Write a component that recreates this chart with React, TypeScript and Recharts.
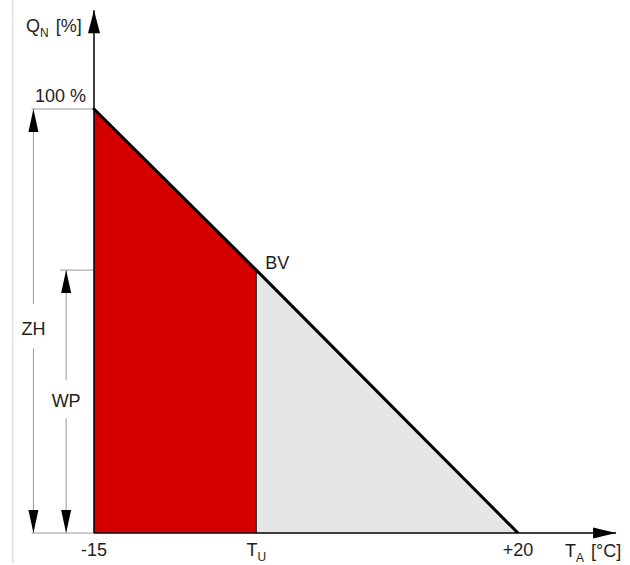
import React from 'react';
import { ComposedChart, Area, Line, XAxis, YAxis, ReferenceLine, ReferenceDot } from 'recharts';

// ---- data ----
const temps = [-15, -1.6, 20]; // outdoor temperature: -15, T_U, +20
const heatLoad = [100, 62, 0]; // Q_N [%]
const tickLabels = ['-15', 'T|U', '+20'];
const yAxisTitle = 'Q|N [%]';
const xAxisTitle = 'T|A [°C]';
const topLabel = '100 %';
const pointLabel = 'BV';
const dimLabels = ['ZH', 'WP'];

const rows = temps.map((t, i) => ({
  x: t,
  q: heatLoad[i],
  red: i <= 1 ? heatLoad[i] : null,
  gray: i >= 1 ? heatLoad[i] : null,
}));

// ---- layout ----
const W = 630;
const H = 565;
const X_DOMAIN: [number, number] = [-22.76, 29.25];
const Y_DOMAIN: [number, number] = [0, 125.7];
const FONT = '"Liberation Sans", Arial, Helvetica, sans-serif';
const TXT = '#1e1e1e';
const ZH_X = -20.0;
const WP_X = -17.3;
const Y_ARROW = 123.3;
const X_ARROW = 28.1;
const FRAME_X = -21.7;

const T0 = temps[0];
const TU = temps[1];
const QTOP = heatLoad[0];
const QBV = heatLoad[1];

const sub = (s: string, size: number, big: number, gap: number) => {
  const [main, rest] = s.split('|');
  const m = rest.match(/^(\S+)(.*)$/) as RegExpMatchArray;
  return [
    <tspan key="a">{main}</tspan>,
    <tspan key="b" dy={5} fontSize={size}>{m[1]}</tspan>,
    m[2] ? <tspan key="c" dy={-5} dx={gap} fontSize={big}>{m[2].trim()}</tspan> : null,
  ];
};

const renderTick = (p: any) => {
  const i = temps.indexOf(p.payload.value);
  const lab = tickLabels[i] ?? '';
  return (
    <text x={p.x} y={p.y + 23} textAnchor="middle" fontFamily={FONT} fontSize={18} fill={TXT}>
      {lab.includes('|') ? sub(lab, 12, 18, 0) : lab}
    </text>
  );
};

const arrow = (dir: 'up' | 'down' | 'right', w: number, l: number) => (p: any) => {
  const { cx, cy } = p;
  let pts = '';
  if (dir === 'up') pts = `${cx},${cy} ${cx - w / 2},${cy + l} ${cx + w / 2},${cy + l}`;
  if (dir === 'down') pts = `${cx},${cy} ${cx - w / 2},${cy - l} ${cx + w / 2},${cy - l}`;
  if (dir === 'right') pts = `${cx},${cy} ${cx - l},${cy - w / 2} ${cx - l},${cy + w / 2}`;
  return <polygon points={pts} fill="#000" />;
};

const textShape = (content: React.ReactNode, dx: number, dy: number, anchor: string) => (p: any) => (
  <text x={p.cx + dx} y={p.cy + dy} textAnchor={anchor} fontFamily={FONT} fontSize={18} fill={TXT}>
    {content}
  </text>
);

const GRAY = '#9a9a9a';

export default function App() {
  return (
    <div style={{ position: 'absolute', left: 0, top: 0, width: W, height: H, background: '#fff' }}>
      <ComposedChart width={W} height={H} data={rows} margin={{ top: 0, right: 0, bottom: 0, left: 0 }}>
        <XAxis
          type="number"
          dataKey="x"
          domain={X_DOMAIN}
          allowDataOverflow
          ticks={temps}
          interval={0}
          height={32}
          axisLine={false}
          tickLine={false}
          tickSize={0}
          tickMargin={0}
          tick={renderTick}
        />
        <YAxis hide type="number" domain={Y_DOMAIN} allowDataOverflow />

        {/* frame line */}
        <ReferenceLine segment={[{ x: FRAME_X, y: Y_DOMAIN[1] }, { x: FRAME_X, y: -7 }]} stroke="#cfcfcf" strokeWidth={1} ifOverflow="visible" />

        <Area type="linear" dataKey="red" fill="#d40000" fillOpacity={1} stroke="none" baseValue={0} dot={false} activeDot={false} isAnimationActive={false} />
        <Area type="linear" dataKey="gray" fill="#e6e6e6" fillOpacity={1} stroke="none" baseValue={0} dot={false} activeDot={false} isAnimationActive={false} />

        <ReferenceLine segment={[{ x: TU, y: 0 }, { x: TU, y: QBV }]} stroke="#111" strokeWidth={1} ifOverflow="visible" />

        {/* extension lines */}
        <ReferenceLine segment={[{ x: ZH_X - 0.15, y: QTOP }, { x: T0, y: QTOP }]} stroke={GRAY} strokeWidth={1} ifOverflow="visible" />
        <ReferenceLine segment={[{ x: WP_X - 0.5, y: QBV }, { x: T0, y: QBV }]} stroke={GRAY} strokeWidth={1} ifOverflow="visible" />
        <ReferenceLine segment={[{ x: ZH_X - 0.15, y: 0 }, { x: T0, y: 0 }]} stroke={GRAY} strokeWidth={1} ifOverflow="visible" />

        {/* dimension lines */}
        <ReferenceLine segment={[{ x: ZH_X, y: QTOP }, { x: ZH_X, y: 54 }]} stroke={GRAY} strokeWidth={1} ifOverflow="visible" />
        <ReferenceLine segment={[{ x: ZH_X, y: 43.5 }, { x: ZH_X, y: 0 }]} stroke={GRAY} strokeWidth={1} ifOverflow="visible" />
        <ReferenceLine segment={[{ x: WP_X, y: QBV }, { x: WP_X, y: 36 }]} stroke={GRAY} strokeWidth={1} ifOverflow="visible" />
        <ReferenceLine segment={[{ x: WP_X, y: 27 }, { x: WP_X, y: 0 }]} stroke={GRAY} strokeWidth={1} ifOverflow="visible" />

        {/* axes */}
        <ReferenceLine segment={[{ x: T0, y: 0 }, { x: T0, y: Y_ARROW }]} stroke="#000" strokeWidth={1.5} ifOverflow="visible" />
        <ReferenceLine segment={[{ x: T0, y: 0 }, { x: X_ARROW, y: 0 }]} stroke="#000" strokeWidth={1.5} ifOverflow="visible" />

        <Line type="linear" dataKey="q" stroke="#000" strokeWidth={3} strokeLinecap="round" dot={false} activeDot={false} isAnimationActive={false} />

        {/* arrowheads */}
        <ReferenceDot x={T0} y={Y_ARROW} ifOverflow="visible" shape={arrow('up', 12, 23)} />
        <ReferenceDot x={X_ARROW} y={0} ifOverflow="visible" shape={arrow('right', 11, 23)} />
        <ReferenceDot x={ZH_X} y={QTOP} ifOverflow="visible" shape={arrow('up', 10, 23)} />
        <ReferenceDot x={ZH_X} y={0} ifOverflow="visible" shape={arrow('down', 10, 23)} />
        <ReferenceDot x={WP_X} y={QBV} ifOverflow="visible" shape={arrow('up', 10, 23)} />
        <ReferenceDot x={WP_X} y={0} ifOverflow="visible" shape={arrow('down', 10, 23)} />

        {/* texts */}
        <ReferenceDot x={T0} y={118.2} ifOverflow="visible" shape={textShape(sub(yAxisTitle, 12, 18, 7), -68, 0, 'start')} />
        <ReferenceDot x={T0} y={QTOP} ifOverflow="visible" shape={textShape(topLabel, -8, -7, 'end')} />
        <ReferenceDot x={TU} y={QBV} ifOverflow="visible" shape={textShape(pointLabel, 9, -1, 'start')} />
        <ReferenceDot x={ZH_X} y={48.1} ifOverflow="visible" shape={textShape(dimLabels[0], 0, 6, 'middle')} />
        <ReferenceDot x={WP_X} y={31.1} ifOverflow="visible" shape={textShape(dimLabels[1], 0, 6, 'middle')} />
        <ReferenceDot x={23.88} y={0} ifOverflow="visible" shape={textShape(sub(xAxisTitle, 12, 18, 7), 0, 24, 'start')} />
      </ComposedChart>
    </div>
  );
}
